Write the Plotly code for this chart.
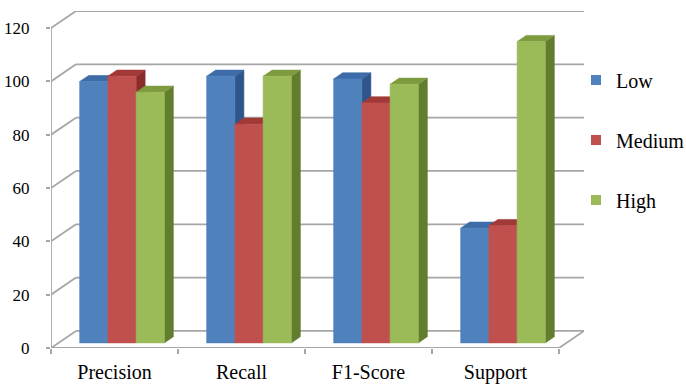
import plotly.graph_objects as go

# Classification report per class
categories = ["Precision", "Recall", "F1-Score", "Support"]
series_names = ["Low", "Medium", "High"]
low_vals = [98, 100, 99, 43]
medium_vals = [100, 82, 90, 44]
high_vals = [94, 100, 97, 113]
y_ticks = [0, 20, 40, 60, 80, 100, 120]

series_vals = [low_vals, medium_vals, high_vals]
front_colors = ["#4F81BD", "#C0504D", "#9BBB59"]
top_colors = ["#3D6CA8", "#A13A37", "#7E9C3F"]
side_colors = ["#2E568A", "#8A2C2A", "#637D2F"]

# Oblique 3-D projection: wall depth expressed in axis units
DEPTH_X = 0.197          # category units
DEPTH_Y = 6.4            # value units
BAR_FRONT = 0.30         # bar front plane, fraction of wall depth
BAR_DEPTH = 0.36         # bar thickness, fraction of wall depth
GAP_RATIO = 1.5          # gap between groups relative to bar width
y_max = max(y_ticks)
n_cat = len(categories)
n_ser = len(series_names)
bar_w = 1.0 / (n_ser + GAP_RATIO)

GRID = "#A6A6A6"
FONT = "'Liberation Serif', 'Times New Roman', Times, serif"

fig = go.Figure()


def poly(xs, ys, color):
    fig.add_trace(go.Scatter(
        x=xs + [xs[0]], y=ys + [ys[0]], mode="lines", fill="toself",
        fillcolor=color, line=dict(width=0.6, color=color),
        hoverinfo="skip", showlegend=False))


def seg(xs, ys):
    fig.add_trace(go.Scatter(
        x=xs, y=ys, mode="lines", line=dict(color=GRID, width=1.8),
        hoverinfo="skip", showlegend=False, connectgaps=False))


# back wall gridlines and left wall diagonals
gx, gy, lx, ly = [], [], [], []
for t in y_ticks:
    gx += [DEPTH_X, n_cat + DEPTH_X, None]
    gy += [t + DEPTH_Y, t + DEPTH_Y, None]
    lx += [0, DEPTH_X, None]
    ly += [t, t + DEPTH_Y, None]
seg(gx, gy)
seg(lx, ly)
# front axis line, floor front edge and floor right edge
seg([0, 0], [0, y_max])
seg([0, n_cat, n_cat + DEPTH_X], [0, 0, DEPTH_Y])

# 3-D columns: side, top and front face of each bar, left to right
ox, oy = BAR_FRONT * DEPTH_X, BAR_FRONT * DEPTH_Y
dx, dy = BAR_DEPTH * DEPTH_X, BAR_DEPTH * DEPTH_Y
for i in range(n_cat):
    for k in range(n_ser):
        v = series_vals[k][i]
        xl = i + 0.5 + (k - n_ser / 2) * bar_w + ox
        xr = xl + bar_w
        b = oy
        top = v + oy
        poly([xr, xr + dx, xr + dx, xr], [b, b + dy, top + dy, top], side_colors[k])
        poly([xl, xr, xr + dx, xl + dx], [top, top, top + dy, top + dy], top_colors[k])
        poly([xl, xr, xr, xl], [b, b, top, top], front_colors[k])

# legend entries
for k, name in enumerate(series_names):
    fig.add_trace(go.Scatter(
        x=[None], y=[None], mode="markers", name=name, legendgroup=name,
        marker=dict(symbol="square", size=10, color=front_colors[k])))

fig.update_layout(
    width=686, height=386,
    margin=dict(l=51, r=102, t=11, b=38, autoexpand=False),
    paper_bgcolor="white", plot_bgcolor="white",
    font=dict(family=FONT, color="#000000"),
    showlegend=True,
    legend=dict(
        x=0.985, xanchor="left", y=0.853, yanchor="top",
        traceorder="grouped", tracegroupgap=31,
        font=dict(size=20, family=FONT, color="#000000"),
        bgcolor="rgba(0,0,0,0)"),
    xaxis=dict(
        range=[0, n_cat + DEPTH_X], showgrid=False, zeroline=False,
        showline=False, fixedrange=True, automargin=False,
        tickmode="array",
        tickvals=[i + 0.5 for i in range(n_cat)], ticktext=categories,
        ticks="", tickfont=dict(size=20, family=FONT, color="#000000"),
        ticklabelstandoff=10,
        minor=dict(tickmode="array", tickvals=list(range(n_cat + 1)),
                   ticks="outside", ticklen=5, tickcolor=GRID, tickwidth=1.8,
                   showgrid=False)),
    yaxis=dict(
        range=[0, y_max + DEPTH_Y], showgrid=False, zeroline=False,
        showline=False, fixedrange=True, automargin=False,
        tickmode="array", tickvals=y_ticks,
        ticks="outside", ticklen=4, tickcolor=GRID, tickwidth=1.8,
        tickfont=dict(size=17, family=FONT, color="#000000"),
        ticklabelstandoff=13),
)

fig.write_html("out.html")
